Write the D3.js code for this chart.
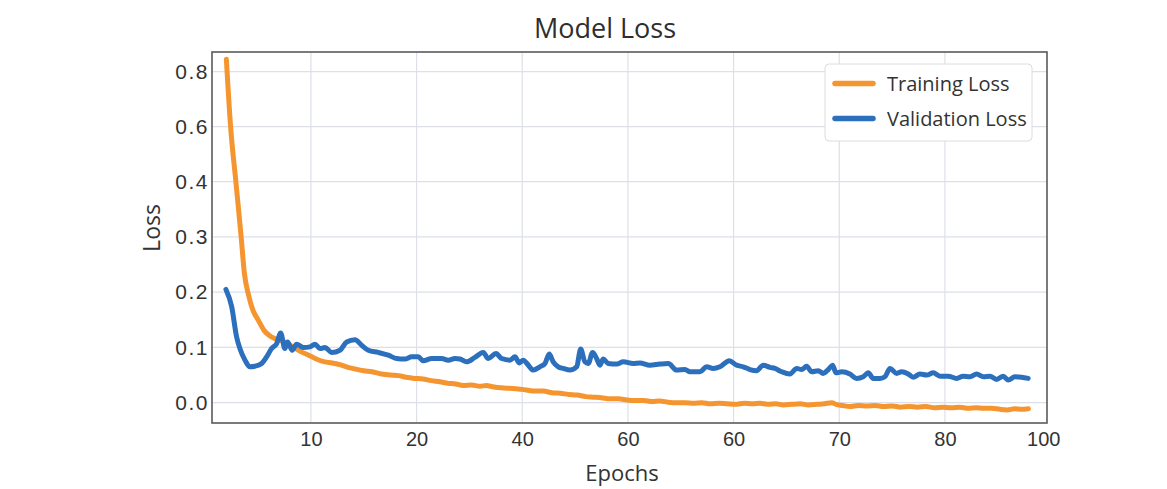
<!DOCTYPE html>
<html>
<head>
<meta charset="utf-8">
<script src="https://cdn.jsdelivr.net/npm/d3@7"></script>
<style>
  html, body { margin: 0; padding: 0; background: #fff; }
  body { width: 1167px; height: 489px; overflow: hidden; font-family: "Open Sans", "Noto Sans", sans-serif; }
  .grid line { stroke: #dde0e9; stroke-width: 1.2; }
  .x-tick { fill: #333; font-size: 20px; }
  .y-tick { fill: #333; font-size: 21px; letter-spacing: 1.5px; }
</style>
</head>
<body>
<div id="chart"></div>
<script>
// training loss (epoch, value)
const trainEpochs = [2.0, 2.4, 2.9, 3.4, 3.7, 4.1, 4.5, 5.0, 5.6, 6.1, 6.6, 7.1, 7.5, 8.0, 8.5, 9.1, 9.7, 10.4, 11.3, 12.0,
  12.9, 13.5, 14.2, 15.0, 15.8, 16.7, 17.5, 18.3, 19.0, 19.8, 20.6, 21.4, 22.2, 23.0, 23.7, 24.4, 25.2, 26.0, 26.6, 27.2,
  28.0, 28.8, 29.6, 30.4, 31.2, 32.0, 32.8, 33.6, 34.4, 35.2, 36.0, 36.7, 37.5, 38.3, 39.1, 39.9, 40.7, 41.5, 42.3, 43.0,
  43.8, 44.6, 45.4, 46.2, 47.0, 47.8, 48.6, 49.4, 50.2, 51.0, 51.8, 52.5, 53.3, 54.0, 54.7, 55.5, 56.3, 57.1, 57.9, 58.6,
  59.3, 59.7, 60.3, 61.0, 61.8, 62.6, 63.4, 64.2, 65.0, 65.8, 66.6, 67.4, 68.2, 69.0, 69.8, 70.6, 71.4, 72.2, 73.0, 73.6,
  74.4, 75.2, 75.9, 76.6, 77.2, 77.9];
const trainLoss = [0.845, 0.60, 0.40, 0.30, 0.235, 0.195, 0.168, 0.150, 0.130, 0.121, 0.116, 0.113, 0.110, 0.104, 0.099, 0.092, 0.087, 0.080, 0.074, 0.072,
  0.068, 0.064, 0.061, 0.058, 0.056, 0.052, 0.050, 0.049, 0.046, 0.044, 0.043, 0.040, 0.038, 0.035, 0.034, 0.031, 0.032, 0.030, 0.031, 0.029,
  0.027, 0.026, 0.025, 0.023, 0.021, 0.021, 0.018, 0.017, 0.015, 0.014, 0.011, 0.010, 0.009, 0.007, 0.007, 0.005, 0.004, 0.004, 0.002, 0.003,
  0.001, 0.000, 0.000, -0.001, 0.000, -0.002, -0.001, -0.002, -0.003, -0.001, -0.002, -0.001, -0.003, -0.002, -0.004, -0.003, -0.002, -0.004, -0.003, -0.002,
  0.000, -0.003, -0.005, -0.007, -0.005, -0.006, -0.005, -0.007, -0.006, -0.008, -0.007, -0.008, -0.007, -0.009, -0.008, -0.009, -0.008, -0.010, -0.009, -0.010,
  -0.010, -0.012, -0.013, -0.011, -0.012, -0.011];

// validation loss (epoch, value)
const valEpochs = [1.96, 2.50, 2.97, 3.28, 3.76, 4.23, 4.70, 5.34, 5.81, 6.28, 6.76, 7.14, 7.54, 7.80, 8.23, 8.65, 9.27, 9.91, 10.38, 10.85,
  11.33, 11.96, 12.75, 13.38, 14.17, 14.80, 15.43, 16.37, 17.32, 18.11, 18.90, 19.53, 20.16, 20.63, 21.43, 22.37, 23.00, 23.63, 24.10, 24.74,
  25.52, 26.31, 26.78, 27.51, 28.05, 28.84, 29.31, 29.72, 30.09, 30.57, 31.04, 31.67, 32.15, 32.55, 32.93, 33.41, 33.88, 34.51, 35.15, 35.53,
  35.93, 36.25, 36.66, 37.04, 37.35, 37.66, 38.14, 38.93, 39.56, 40.50, 41.14, 42.08, 43.03, 43.82, 44.61, 45.40, 45.87, 46.82, 47.45, 48.07,
  48.71, 49.59, 50.29, 50.91, 51.55, 52.18, 52.81, 53.44, 53.91, 54.55, 55.33, 55.97, 56.44, 56.91, 57.39, 58.01, 58.48, 58.96, 59.37, 59.69,
  60.23, 61.01, 61.64, 62.27, 62.74, 63.22, 63.85, 64.32, 64.80, 65.43, 65.90, 66.53, 67.00, 67.64, 68.27, 68.90, 69.53, 70.31, 71.11, 71.73,
  72.37, 73.00, 73.63, 74.26, 74.89, 75.52, 75.99, 76.62, 77.26, 77.88];
const valLoss = [0.205, 0.174, 0.119, 0.098, 0.077, 0.065, 0.066, 0.071, 0.083, 0.098, 0.107, 0.126, 0.098, 0.110, 0.095, 0.106, 0.100, 0.101, 0.106, 0.098,
  0.100, 0.091, 0.095, 0.110, 0.114, 0.104, 0.095, 0.091, 0.086, 0.080, 0.079, 0.083, 0.083, 0.076, 0.080, 0.080, 0.077, 0.080, 0.079, 0.074,
  0.082, 0.091, 0.080, 0.089, 0.080, 0.077, 0.083, 0.072, 0.077, 0.068, 0.059, 0.065, 0.071, 0.088, 0.074, 0.065, 0.062, 0.059, 0.065, 0.097,
  0.074, 0.071, 0.091, 0.080, 0.068, 0.079, 0.071, 0.070, 0.074, 0.071, 0.072, 0.068, 0.070, 0.071, 0.059, 0.060, 0.056, 0.056, 0.065, 0.062,
  0.065, 0.076, 0.068, 0.065, 0.060, 0.058, 0.068, 0.064, 0.062, 0.056, 0.052, 0.062, 0.060, 0.066, 0.056, 0.058, 0.053, 0.060, 0.068, 0.054,
  0.056, 0.052, 0.044, 0.047, 0.054, 0.044, 0.044, 0.047, 0.062, 0.053, 0.056, 0.052, 0.046, 0.052, 0.050, 0.054, 0.048, 0.048, 0.044, 0.048,
  0.047, 0.052, 0.047, 0.048, 0.042, 0.048, 0.041, 0.047, 0.046, 0.044];

// tick labels as printed in the picture
const xTickVals = [10, 20, 30, 40, 50, 60, 70, 79.3];
const xTickLabels = ["10", "20", "40", "60", "60", "70", "80", "100"];
const yTickVals = [0, 0.1, 0.2, 0.3, 0.4, 0.6, 0.8];
const yTickLabels = ["0.0", "0.1", "0.2", "0.3", "0.4", "0.6", "0.8"];

const seriesNames = ["Training Loss", "Validation Loss"];
const seriesColors = ["#f5952f", "#2c6fbc"];

const W = 1167, H = 489;
const margin = { top: 52, right: 120, bottom: 66, left: 212 };
const width = W - margin.left - margin.right,
      height = H - margin.top - margin.bottom;

const svg = d3.select('#chart').append('svg')
    .attr('width', W)
    .attr('height', H);

const g = svg.append('g')
    .attr('transform', 'translate(' + margin.left + ',' + margin.top + ')');

// x is linear in epochs, y is piecewise (0..0.4 then 0.4..0.8 compressed)
const x = d3.scaleLinear().domain([0.64, 79.66]).range([0, width]);
const y = d3.scaleLinear()
    .domain([0, 0.4, 0.8])
    .range([height * 0.9453, height * 0.3496, height * 0.0531]);

// grid
g.append('g').attr('class', 'grid')
    .selectAll('line')
    .data(xTickVals.filter(d => d < 75))
    .enter().append('line')
    .attr('x1', d => x(d)).attr('x2', d => x(d))
    .attr('y1', 0).attr('y2', height);

g.append('g').attr('class', 'grid')
    .selectAll('line')
    .data(yTickVals)
    .enter().append('line')
    .attr('x1', 0).attr('x2', width)
    .attr('y1', d => y(d)).attr('y2', d => y(d));

// lines
const trainData = trainEpochs.map((e, i) => ({ e: e, v: trainLoss[i] }));
const valData = valEpochs.map((e, i) => ({ e: e, v: valLoss[i] }));

const line = d3.line()
    .x(d => x(d.e))
    .y(d => y(d.v))
    .curve(d3.curveMonotoneX);

[trainData, valData].forEach(function (data, i) {
    g.append('path')
        .datum(data)
        .attr('fill', 'none')
        .attr('stroke', seriesColors[i])
        .attr('stroke-width', 5)
        .attr('stroke-linejoin', 'round')
        .attr('stroke-linecap', 'round')
        .attr('d', line);
});

// frame
g.append('rect')
    .attr('x', 0).attr('y', 0)
    .attr('width', width).attr('height', height)
    .attr('fill', 'none')
    .attr('stroke', '#5a5a5a')
    .attr('stroke-width', 1.6);

// axes (labels only, no tick marks)
const xAxis = g.append('g')
    .attr('transform', 'translate(0,' + height + ')')
    .call(d3.axisBottom(x).tickValues(xTickVals)
        .tickFormat((d, i) => xTickLabels[i]).tickSize(0).tickPadding(9));
xAxis.select('.domain').remove();
xAxis.selectAll('text').attr('class', 'x-tick').attr('font-family', null).attr('font-size', null);

const yAxis = g.append('g')
    .call(d3.axisLeft(y).tickValues(yTickVals)
        .tickFormat((d, i) => yTickLabels[i]).tickSize(0).tickPadding(3));
yAxis.select('.domain').remove();
yAxis.selectAll('text').attr('class', 'y-tick').attr('font-family', null).attr('font-size', null);

// title and axis labels
svg.append('text')
    .attr('x', 605).attr('y', 38)
    .attr('text-anchor', 'middle')
    .attr('fill', '#2e2e2e')
    .style('font-size', '27px')
    .text('Model Loss');

svg.append('text')
    .attr('x', 622).attr('y', 481)
    .attr('text-anchor', 'middle')
    .attr('fill', '#333')
    .style('font-size', '22px')
    .text('Epochs');

svg.append('text')
    .attr('transform', 'translate(160,228) rotate(-90)')
    .attr('text-anchor', 'middle')
    .attr('fill', '#333')
    .style('font-size', '23px')
    .text('Loss');

// legend
const legend = svg.append('g').attr('transform', 'translate(825,64)');
legend.append('rect')
    .attr('width', 207).attr('height', 77)
    .attr('rx', 4)
    .attr('fill', '#fff')
    .attr('stroke', '#dcdcdc')
    .attr('stroke-width', 1);

seriesNames.forEach(function (name, i) {
    const yy = 19.5 + i * 35;
    legend.append('line')
        .attr('x1', 10).attr('x2', 48)
        .attr('y1', yy).attr('y2', yy)
        .attr('stroke', seriesColors[i])
        .attr('stroke-width', 5.5)
        .attr('stroke-linecap', 'round');
    legend.append('text')
        .attr('x', 62).attr('y', yy + 7)
        .attr('fill', '#333')
        .style('font-size', '20px')
        .text(name);
});
</script>
</body>
</html>
